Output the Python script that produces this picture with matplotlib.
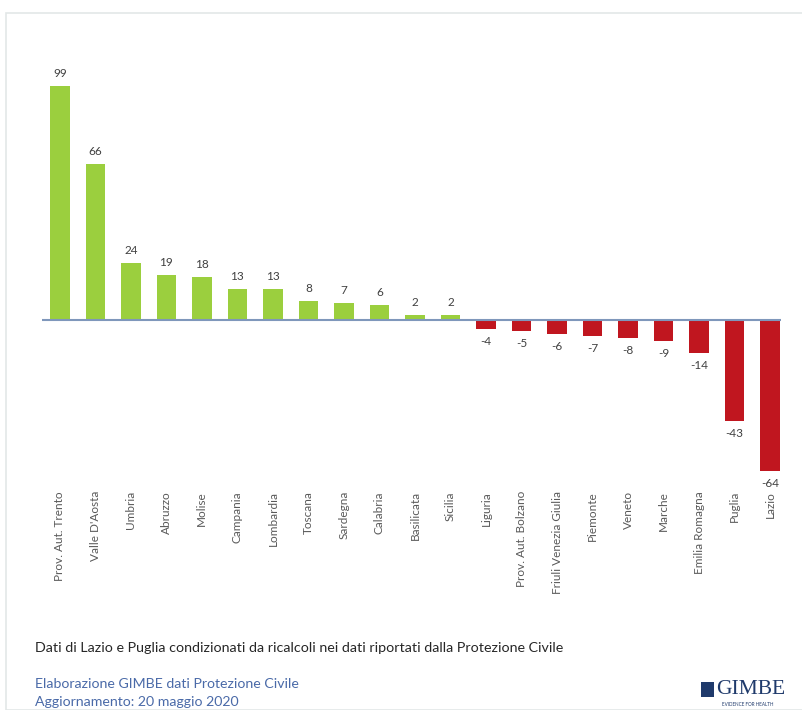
import matplotlib.pyplot as plt
from matplotlib.patches import Rectangle

regions = ['Prov. Aut. Trento', "Valle D'Aosta", 'Umbria', 'Abruzzo', 'Molise',
           'Campania', 'Lombardia', 'Toscana', 'Sardegna', 'Calabria', 'Basilicata',
           'Sicilia', 'Liguria', 'Prov. Aut. Bolzano', 'Friuli Venezia Giulia',
           'Piemonte', 'Veneto', 'Marche', 'Emilia Romagna', 'Puglia', 'Lazio']
values = [99, 66, 24, 19, 18, 13, 13, 8, 7, 6, 2, 2,
          -4, -5, -6, -7, -8, -9, -14, -43, -64]

note = 'Dati di Lazio e Puglia condizionati da ricalcoli nei dati riportati dalla Protezione Civile'
source = 'Elaborazione GIMBE dati Protezione Civile'
updated = 'Aggiornamento: 20 maggio 2020'

GREEN = '#9bcf3e'
RED = '#c0161f'
plt.rcParams['font.family'] = ['Lato', 'DejaVu Sans']

fig = plt.figure(figsize=(8.03, 7.10), dpi=100)
W, H = 803, 710

# light frame around the panel
fig.patches.append(Rectangle((6 / W, 0), 1, 1 - 13 / H, transform=fig.transFigure,
                             fill=False, edgecolor='#e3e7e7', linewidth=1.2))

ax = fig.add_axes([42 / W, 1 - 480 / H, (788 - 42) / W, 420 / H])
x = range(len(values))
colors = [GREEN if v > 0 else RED for v in values]
ax.bar(x, values, width=0.55, color=colors, zorder=2)
ax.hlines(0, -0.5, 20.3, color='#7f97bb', linewidth=1.5, zorder=3)

for i, v in enumerate(values):
    if v > 0:
        ax.annotate(str(v), (i, v), xytext=(0, 5), textcoords='offset points',
                    ha='center', va='bottom', fontsize=8.5, color='#404040')
    else:
        ax.annotate(str(v), (i, v), xytext=(0, -5), textcoords='offset points',
                    ha='center', va='top', fontsize=8.5, color='#404040')

ax.set_xlim(-0.5, 20.5)
ax.set_ylim(-68, 110)
ax.set_xticks(list(x))
ax.set_xticklabels(regions, rotation=90, fontsize=8.5, color='#595959')
ax.tick_params(axis='x', length=0, pad=8)
ax.set_yticks([])
for s in ax.spines.values():
    s.set_visible(False)

fig.text(35 / W, 1 - 648 / H, note, fontsize=10.3, color='#262626', va='center')
fig.text(35 / W, 1 - 684 / H, source, fontsize=10.2, color='#4a6aa8', va='center')
fig.text(35 / W, 1 - 702 / H, updated, fontsize=10.2, color='#4a6aa8', va='center')

# GIMBE logo
fig.patches.append(Rectangle((701 / W, 1 - 697 / H), 13 / W, 15 / H, transform=fig.transFigure,
                             facecolor='#1f3a6b', edgecolor='none'))
fig.text(716 / W, 1 - 689 / H, 'GIMBE', fontsize=15.5, color='#1f3a6b', va='center',
         family=['Liberation Serif', 'DejaVu Serif'])
fig.text(748 / W, 1 - 704 / H, 'EVIDENCE FOR HEALTH', fontsize=3.3, color='#1f3a6b',
         va='center', ha='center')

fig.savefig('out.png', dpi=100)
